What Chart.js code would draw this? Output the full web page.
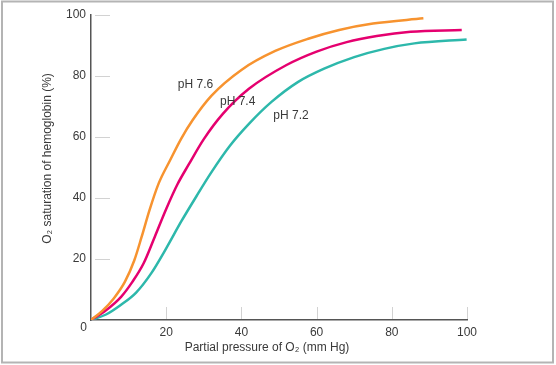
<!DOCTYPE html>
<html>
<head>
<meta charset="utf-8">
<script src="https://cdn.jsdelivr.net/npm/chart.js@4.4.0/dist/chart.umd.min.js"></script>
<style>
    html, body { margin: 0; padding: 0; background: #fff; }
    #wrap { position: relative; width: 556px; height: 365px; }
</style>
</head>
<body>
<div id="wrap"><canvas id="chart" width="556" height="365"></canvas></div>
<script>
// values (mm Hg, % saturation)
var pressure76 = [0, 3, 6, 9, 11.5, 13.5, 15.5, 18, 21, 24, 27, 32, 40, 49, 58, 66, 75, 88.4];
var saturation76 = [0, 3, 7, 12.5, 19.5, 27.4, 35.8, 44.8, 52.3, 59.5, 65.5, 73.5, 82, 88.2, 92.3, 95.1, 97.2, 98.9];

var pressure74 = [0, 4, 8, 11, 14, 17, 20, 23, 26, 30, 35, 42, 52, 60, 68, 76, 85, 98.6];
var saturation74 = [0, 3.2, 7.6, 12.5, 18.6, 27.4, 36.4, 44.5, 51, 59.3, 67.5, 75.8, 83.6, 88, 91.1, 93.1, 94.5, 95.1];

var pressure72 = [0, 4, 8, 12, 16, 20, 24, 28, 32, 37, 42, 48, 55, 62, 70, 78, 86, 99.9];
var saturation72 = [0, 1.8, 5, 9, 15.3, 23.5, 32.3, 40.5, 48.4, 57.2, 64.3, 71.5, 78, 82.4, 86.2, 88.9, 90.7, 92];

var seriesNames = ['pH 7.6', 'pH 7.4', 'pH 7.2'];
var seriesColors = ['#f7932f', '#e5006f', '#2db8ab'];
// where each curve label sits, in data units (pressure, saturation)
var labelPressure = [27.8, 39, 53.2];
var labelSaturation = [77, 71.5, 66.9];

var xTicks = [0, 20, 40, 60, 80, 100];
var yTicks = [0, 20, 40, 60, 80, 100];
var xTitle = 'Partial pressure of O\u2082 (mm Hg)';
var yTitle = 'O\u2082 saturation of hemoglobin (%)';

var fontFamily = '"Liberation Sans", Arial, Helvetica, sans-serif';
var textColor = '#3a3a3a';

function points(xs, ys) {
    return xs.map((x, i) => ({ x: x, y: ys[i] }));
}

var curves = [
    points(pressure76, saturation76),
    points(pressure74, saturation74),
    points(pressure72, saturation72)
];

// gray frame round the figure
var framePlugin = {
    id: 'frame',
    beforeDraw(chart) {
        let ctx = chart.ctx;
        ctx.save();
        ctx.strokeStyle = '#b4b4b4';
        ctx.lineWidth = 2;
        ctx.strokeRect(2, 1.5, 551, 361);
        ctx.restore();
    }
};

// short light tick marks inside the plot, the shared "0", axis titles and curve labels
var extrasPlugin = {
    id: 'extras',
    beforeDatasetsDraw(chart) {
        let ctx = chart.ctx;
        let xs = chart.scales.x, ys = chart.scales.y;
        let x0 = xs.getPixelForValue(0), y0 = ys.getPixelForValue(0);
        ctx.save();
        ctx.strokeStyle = '#d2d2d2';
        ctx.lineWidth = 1;
        yTicks.forEach(v => {
            if (v === 0) return;
            let y = Math.round(ys.getPixelForValue(v)) + 0.5;
            ctx.beginPath();
            ctx.moveTo(x0 + 4, y);
            ctx.lineTo(x0 + 19, y);
            ctx.stroke();
        });
        xTicks.forEach(v => {
            if (v === 0) return;
            let x = Math.round(xs.getPixelForValue(v)) + 0.5;
            ctx.beginPath();
            ctx.moveTo(x, y0 - 13);
            ctx.lineTo(x, y0 - 1);
            ctx.stroke();
        });
        ctx.restore();
    },
    afterDatasetsDraw(chart) {
        let ctx = chart.ctx;
        let xs = chart.scales.x, ys = chart.scales.y;
        let area = chart.chartArea;
        ctx.save();
        ctx.fillStyle = textColor;
        ctx.font = '12px ' + fontFamily;
        ctx.textAlign = 'right';
        ctx.textBaseline = 'middle';
        ctx.fillText('0', xs.getPixelForValue(0) - 4, ys.getPixelForValue(0) + 8);

        ctx.textAlign = 'center';
        seriesNames.forEach((name, i) => {
            ctx.fillText(name, xs.getPixelForValue(labelPressure[i]), ys.getPixelForValue(labelSaturation[i]));
        });

        // axis titles, a little off centre like the original
        ctx.fillText(xTitle, (area.left + area.right) / 2 - 12, area.bottom + 28);
        ctx.translate(area.left - 43, (area.top + area.bottom) / 2 - 9);
        ctx.rotate(-Math.PI / 2);
        ctx.fillText(yTitle, 0, 0);
        ctx.restore();
    }
};

var ctx = document.getElementById('chart').getContext('2d');
new Chart(ctx, {
    type: 'line',
    data: {
        datasets: curves.map((c, i) => ({
            label: seriesNames[i],
            data: c,
            borderColor: seriesColors[i],
            borderWidth: 2.5,
            pointRadius: 0,
            fill: false,
            cubicInterpolationMode: 'monotone'
        }))
    },
    options: {
        responsive: false,
        animation: false,
        layout: { padding: { top: 15, right: 89, bottom: 0, left: 0 } },
        plugins: {
            legend: { display: false },
            tooltip: { enabled: false }
        },
        scales: {
            x: {
                type: 'linear',
                min: 0,
                max: 100,
                afterFit: s => { s.height = 45; },
                grid: { display: false, drawTicks: false },
                border: { display: true, color: '#555', width: 1.5 },
                ticks: {
                    stepSize: 20,
                    padding: 5,
                    color: textColor,
                    font: { size: 12, family: fontFamily },
                    callback: v => v === 0 ? '' : v
                }
            },
            y: {
                min: 0,
                max: 100,
                afterFit: s => { s.width = 91; },
                grid: { display: false, drawTicks: false },
                border: { display: true, color: '#555', width: 1.5 },
                ticks: {
                    stepSize: 20,
                    padding: 5,
                    color: textColor,
                    font: { size: 12, family: fontFamily },
                    callback: v => v === 0 ? '' : v
                }
            }
        }
    },
    plugins: [framePlugin, extrasPlugin]
});
</script>
</body>
</html>
